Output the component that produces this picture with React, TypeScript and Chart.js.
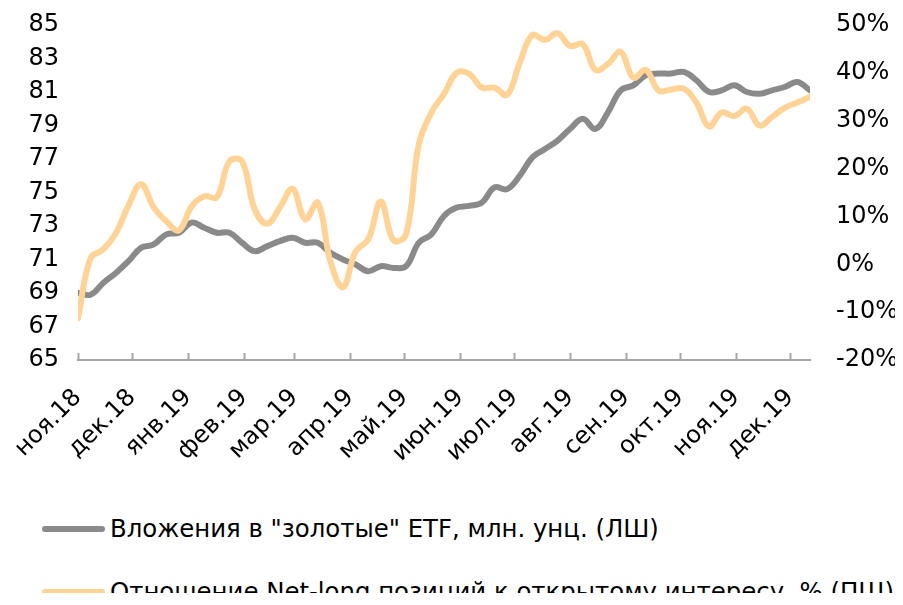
import React, { useEffect, useRef } from "react";
import { Chart, registerables } from "chart.js";

Chart.register(...registerables);

// Weekly observation dates
const weekDates = [
  "2018-11-01", "2018-11-08", "2018-11-15", "2018-11-22", "2018-11-29",
  "2018-12-06", "2018-12-13", "2018-12-20", "2018-12-27", "2019-01-03",
  "2019-01-10", "2019-01-17", "2019-01-24", "2019-01-31", "2019-02-07",
  "2019-02-14", "2019-02-21", "2019-02-28", "2019-03-07", "2019-03-14",
  "2019-03-21", "2019-03-28", "2019-04-04", "2019-04-11", "2019-04-18",
  "2019-04-25", "2019-05-02", "2019-05-09", "2019-05-16", "2019-05-23",
  "2019-05-30", "2019-06-06", "2019-06-13", "2019-06-20", "2019-06-27",
  "2019-07-04", "2019-07-11", "2019-07-18", "2019-07-25", "2019-08-01",
  "2019-08-08", "2019-08-15", "2019-08-22", "2019-08-29", "2019-09-05",
  "2019-09-12", "2019-09-19", "2019-09-26", "2019-10-03", "2019-10-10",
  "2019-10-17", "2019-10-24", "2019-10-31", "2019-11-07", "2019-11-14",
  "2019-11-21", "2019-11-28", "2019-12-05", "2019-12-12",
];

// Вложения в "золотые" ETF, млн. унц. (left axis)
const etfHoldings = [
  69.0, 68.9, 69.6, 70.2, 70.9, 71.7, 71.9, 72.5, 72.6, 73.2,
  72.9, 72.6, 72.6, 72.0, 71.5, 71.8, 72.1, 72.3, 72.0, 72.0,
  71.4, 71.0, 70.7, 70.3, 70.6, 70.5, 70.6, 72.0, 72.5, 73.6,
  74.1, 74.2, 74.4, 75.3, 75.2, 76.0, 77.1, 77.6, 78.1, 78.8,
  79.4, 78.8, 79.8, 81.1, 81.4, 82.0, 82.1, 82.1, 82.2, 81.7,
  81.0, 81.1, 81.4, 81.0, 80.9, 81.1, 81.3, 81.6, 81.1,
];

// Отношение Net-long позиций к открытому интересу, % (right axis)
const netLongRatio = [
  -11.3, 1.3, 3.1, 6.5, 12.3, 16.7, 11.9, 9.0, 7.1, 12.1,
  14.2, 14.0, 21.5, 21.5, 11.5, 8.5, 11.9, 15.8, 9.4, 12.9,
  0.6, -4.8, 2.7, 5.2, 13.1, 5.0, 6.3, 25.0, 31.7, 35.6,
  40.0, 39.8, 36.9, 36.9, 35.4, 42.1, 47.9, 46.9, 48.3, 45.6,
  46.0, 40.6, 41.9, 44.4, 39.0, 40.6, 36.3, 36.5, 36.7, 33.8,
  28.8, 31.7, 31.0, 32.5, 29.0, 30.8, 32.7, 33.8, 35.0,
];

const monthTickDates = [
  "2018-11-01", "2018-12-01", "2019-01-01", "2019-02-01", "2019-03-01",
  "2019-04-01", "2019-05-01", "2019-06-01", "2019-07-01", "2019-08-01",
  "2019-09-01", "2019-10-01", "2019-11-01", "2019-12-01",
];
const monthTickLabels = [
  "ноя.18", "дек.18", "янв.19", "фев.19", "мар.19", "апр.19", "май.19",
  "июн.19", "июл.19", "авг.19", "сен.19", "окт.19", "ноя.19", "дек.19",
];

const seriesNames = [
  'Вложения в "золотые" ETF, млн. унц. (ЛШ)',
  "Отношение Net-long позиций к открытому интересу, % (ПШ)",
];

const GRAY = "#8a8a8a";
const ORANGE = "#ffd395";
const AXIS = "#a6a6a6";
const FONT = "'DejaVu Sans', Verdana, sans-serif";

const DAY_MS = 86400000;
const ORIGIN = Date.parse(weekDates[0]);
const toDay = (d: string) => (Date.parse(d) - ORIGIN) / DAY_MS;

// Tick marks pointing up into the plot from the category axis
const upTicks = {
  id: "upTicks",
  afterDraw(chart: any) {
    const { ctx, chartArea, scales } = chart;
    const x = scales.x;
    ctx.save();
    ctx.strokeStyle = AXIS;
    ctx.lineWidth = 2;
    x.ticks.forEach((t: any) => {
      const px = Math.round(x.getPixelForValue(t.value)) + 0.5;
      ctx.beginPath();
      ctx.moveTo(px, chartArea.bottom);
      ctx.lineTo(px, chartArea.bottom - 7);
      ctx.stroke();
    });
    ctx.restore();
  },
};

const noPad = (s: any) => {
  s.paddingTop = 0;
  s.paddingBottom = 0;
  s.paddingLeft = 0;
  s.paddingRight = 0;
};

export default function App() {
  const ref = useRef<HTMLCanvasElement>(null);

  useEffect(() => {
    const xs = weekDates.map(toDay);
    const monthDays = monthTickDates.map(toDay);
    const chart = new Chart(ref.current as HTMLCanvasElement, {
      type: "line",
      data: {
        datasets: [
          {
            label: seriesNames[1],
            data: xs.map((x, i) => ({ x, y: netLongRatio[i] })),
            yAxisID: "y1",
            borderColor: ORANGE,
            backgroundColor: ORANGE,
            borderWidth: 6,
            pointRadius: 0,
            tension: 0.4,
            order: 0,
            borderCapStyle: "round",
            borderJoinStyle: "round",
          },
          {
            label: seriesNames[0],
            data: xs.map((x, i) => ({ x, y: etfHoldings[i] })),
            yAxisID: "y",
            borderColor: GRAY,
            backgroundColor: GRAY,
            borderWidth: 6,
            pointRadius: 0,
            tension: 0.4,
            order: 1,
            borderCapStyle: "round",
            borderJoinStyle: "round",
          },
        ],
      },
      options: {
        animation: false,
        responsive: false,
        maintainAspectRatio: false,
        layout: { padding: { top: 17, left: 0, right: 0, bottom: 0 } },
        plugins: { legend: { display: false }, tooltip: { enabled: false } },
        scales: {
          x: {
            type: "linear",
            min: 0,
            max: xs[xs.length - 1],
            afterBuildTicks: (s: any) => {
              s.ticks = monthDays.map((v) => ({ value: v }));
            },
            afterFit: (s: any) => {
              s.height = 110;
              noPad(s);
            },
            ticks: {
              autoSkip: false,
              maxRotation: 45,
              minRotation: 45,
              padding: 19,
              color: "#000",
              font: { family: FONT, size: 24, lineHeight: 1.75 },
              callback: (_v: any, i: number) => monthTickLabels[i],
            },
            grid: { display: false, drawTicks: false },
            border: { display: true, color: AXIS, width: 2 },
          },
          y: {
            position: "left",
            min: 65,
            max: 85,
            afterFit: (s: any) => {
              s.width = 70;
              noPad(s);
            },
            ticks: {
              stepSize: 2,
              padding: 19,
              color: "#000",
              font: { family: FONT, size: 24 },
            },
            grid: { display: false, drawTicks: false },
            border: { display: false },
          },
          y1: {
            position: "right",
            min: -20,
            max: 50,
            afterFit: (s: any) => {
              s.width = 93;
              noPad(s);
            },
            ticks: {
              stepSize: 10,
              padding: 26,
              color: "#000",
              font: { family: FONT, size: 24 },
              callback: (v: any) => v + "%",
            },
            grid: { display: false, drawTicks: false },
            border: { display: false },
          },
        },
      },
      plugins: [upTicks],
    } as any);
    return () => chart.destroy();
  }, []);

  const legendColors = [GRAY, ORANGE];
  const legendCenters = [521, 584];

  return (
    <div style={{ position: "relative", width: 895, height: 585 }}>
      <canvas ref={ref} width={895} height={462} style={{ display: "block" }} />
      {seriesNames.map((name, i) => (
        <div
          key={i}
          style={{
            position: "absolute",
            left: 34,
            top: legendCenters[i] - 9,
            height: 18,
            lineHeight: "18px",
            display: "flex",
            alignItems: "center",
            whiteSpace: "nowrap",
            fontFamily: FONT,
            fontSize: 24.4,
            color: "#000",
          }}
        >
          <span
            style={{
              display: "inline-block",
              width: 63,
              height: 6,
              borderRadius: 3,
              background: legendColors[i],
              marginRight: 5,
            }}
          />
          <span>{name}</span>
        </div>
      ))}
    </div>
  );
}
